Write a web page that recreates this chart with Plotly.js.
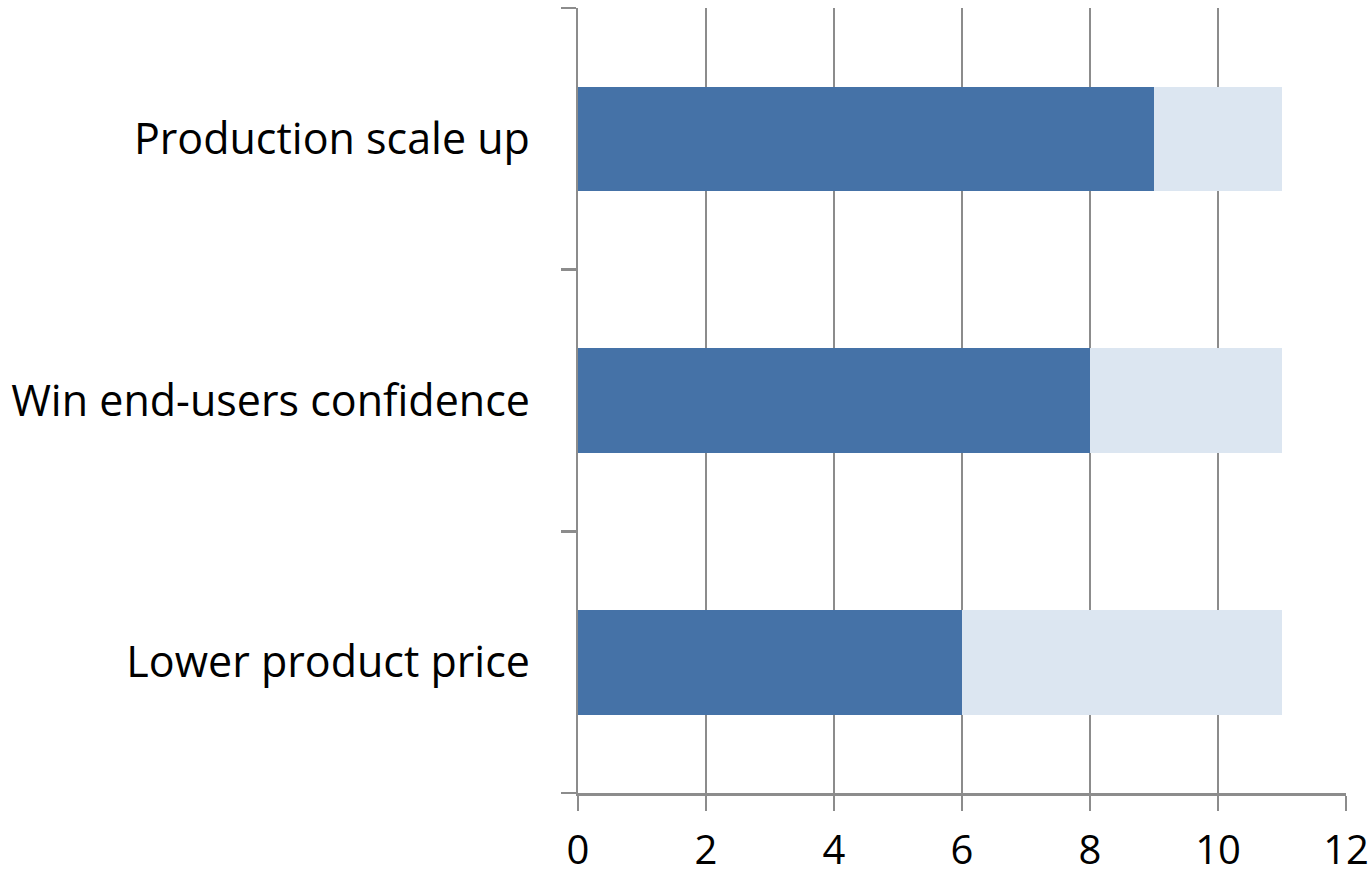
<!DOCTYPE html>
<html>
<head>
<meta charset="utf-8">
<script src="https://cdn.plot.ly/plotly-3.0.1.min.js"></script>
<style>html,body{margin:0;padding:0;background:#fff;}#chart{width:1372px;height:878px;}</style>
</head>
<body>
<div id="chart"></div>
<script>
var categories = ['Lower product price', 'Win end-users confidence', 'Production scale up'];
var achieved = [6, 8, 9];
var remaining = [5, 3, 2];
var xTicks = [0, 2, 4, 6, 8, 10, 12];

var traces = [
  {type: 'bar', orientation: 'h', y: categories, x: achieved, marker: {color: '#4572A7'}, hoverinfo: 'x+y'},
  {type: 'bar', orientation: 'h', y: categories, x: remaining, marker: {color: '#DCE6F1'}, hoverinfo: 'x+y'}
];

var layout = {
  width: 1372, height: 878,
  margin: {l: 578, r: 26, t: 8, b: 85},
  barmode: 'stack',
  bargap: 0.6,
  showlegend: false,
  paper_bgcolor: '#fff',
  plot_bgcolor: '#fff',
  font: {family: '"Open Sans", Lato, sans-serif', color: '#000', size: 43},
  xaxis: {
    range: [0, 12],
    tickvals: xTicks,
    ticktext: xTicks.map(String),
    showgrid: true, gridcolor: '#8c8c8c', gridwidth: 2.5,
    showline: true, linecolor: '#8c8c8c', linewidth: 2.5,
    ticks: 'outside', ticklen: 15, tickwidth: 2.5, tickcolor: '#8c8c8c',
    zeroline: false,
    tickfont: {size: 40},
    ticklabelstandoff: 5,
    fixedrange: true
  },
  yaxis: {
    type: 'category',
    categoryorder: 'array', categoryarray: categories,
    tickson: 'boundaries',
    showgrid: false,
    showline: true, linecolor: '#8c8c8c', linewidth: 2.5,
    ticks: 'outside', ticklen: 15, tickwidth: 2.5, tickcolor: '#8c8c8c',
    tickfont: {size: 43},
    ticklabelstandoff: 37,
    fixedrange: true
  }
};

Plotly.newPlot('chart', traces, layout, {displayModeBar: false, staticPlot: true});
</script>
</body>
</html>
